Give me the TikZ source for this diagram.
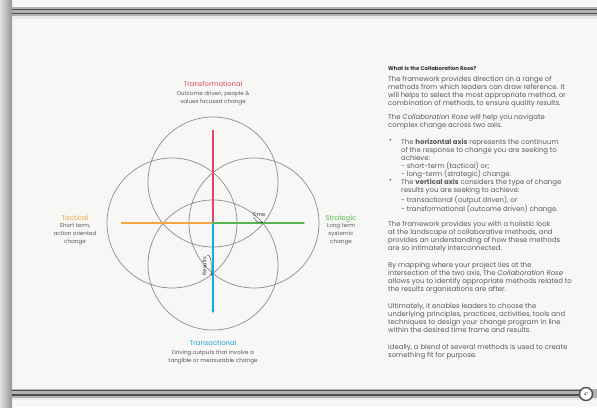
\documentclass[tikz,border=0pt]{standalone}
\usepackage{fontspec}
\setmainfont{Poppins}
\usetikzlibrary{arrows.meta}
\definecolor{pagebg}{HTML}{F7F7F5}
\definecolor{bodytext}{HTML}{5A5A5A}
\definecolor{ringgrey}{HTML}{8C8C8C}
\definecolor{rosered}{HTML}{E5475F}
\definecolor{roseorange}{HTML}{F5A43F}
\definecolor{rosegreen}{HTML}{55B653}
\definecolor{roseblue}{HTML}{1BA5E4}
\definecolor{rulegrey}{HTML}{4F4F4F}
\tikzset{
  ring/.style={draw=ringgrey, line width=0.7pt},
  axisline/.style={line width=1.3pt},
  axistitle/.style={font=\fontsize{6.8}{8}\selectfont, inner sep=0pt, anchor=base},
  axisnote/.style={font=\fontsize{5.6}{8}\selectfont, text=bodytext, align=center, inner sep=0pt, anchor=north},
  pointer/.style={font=\fontsize{5.2}{6}\selectfont, text=black!80, inner sep=0pt},
  pointerarrow/.style={draw=black!75, line width=0.45pt, -{Stealth[length=2pt,width=2pt]}},
  body/.style={font=\fontsize{6.9}{8}\selectfont, text=bodytext, align=left, inner sep=0pt, anchor=north west},
  bulletmark/.style={font=\fontsize{6.9}{8}\selectfont, text=bodytext, inner sep=0pt, anchor=north west},
  pagerule/.style={draw=rulegrey, line width=1.3pt},
}
\begin{document}
\begin{tikzpicture}[x=1pt, y=-1pt]
\useasboundingbox (0,0) rectangle (597,407);

% page and binding shadow
\fill[pagebg] (0,0) rectangle (597,407);
\shade[left color=black!12, right color=black!42] (0,0) rectangle (12,407);

% header rules
\fill[black!30] (12,7) rectangle (597,16);
\draw[pagerule] (12,9.3) -- (597,9.3);
\draw[pagerule] (12,13.8) -- (597,13.8);
\fill[black!8] (12,16) rectangle (597,19);

% footer rules and page badge
\fill[black!30] (12,388.5) rectangle (597,397.5);
\draw[pagerule] (12,390.5) -- (590,390.5);
\draw[pagerule] (12,395) -- (590,395);
\fill[black!8] (12,397.5) rectangle (597,400);
\node[circle, draw=rulegrey, line width=1.4pt, fill=white, minimum size=13pt, inner sep=0pt,
      font=\fontsize{3.5}{4}\selectfont] (pageno) at (586,394) {47};

% the four rings of the rose
\coordinate (c) at (213,223);
\draw[ring] (213,182) circle[radius=65];
\draw[ring] (213,265) circle[radius=65];
\draw[ring] (172,223) circle[radius=65];
\draw[ring] (254,223) circle[radius=65];

% axes
\coordinate (topend) at (213,130);
\coordinate (leftend) at (121,223);
\coordinate (rightend) at (305,223);
\coordinate (bottomend) at (213,313);
\draw[axisline, rosered] (c) -- (topend);
\draw[axisline, roseorange] (c) -- (leftend);
\draw[axisline, rosegreen, -{Stealth[length=2.5pt,width=2.5pt]}] (c) -- (rightend);
\draw[axisline, roseblue, -{Stealth[length=3pt,width=3pt]}] (c) -- (bottomend);

% axis titles and descriptions
\node[axistitle, text=rosered] (transformational) at (213,86) {Transformational};
\node[axisnote] (outcome) at (213,91.5) {Outcome driven, people \&\\values focused change};

\node[axistitle, text=roseorange] (tactical) at (75,220) {Tactical};
\node[axisnote] (shortterm) at (75,223.5) {Short term,\\action oriented\\change};

\node[axistitle, text=rosegreen] (strategic) at (341,220) {Strategic};
\node[axisnote] (longterm) at (341,223.5) {Long term\\systemic\\change};

\node[axistitle, text=roseblue] (transactional) at (213,345) {Transactional};
\node[axisnote] (outputs) at (213,350.5) {Driving outputs that involve a\\tangible or measurable change};

% pointers to the ring crossings
\coordinate (timecross) at (263,222);
\coordinate (resultscross) at (212,273);
\node[pointer] (time) at (259,214.5) {Time};
\draw[pointerarrow] (time.south west) ++(1.5,0.5) to[out=-80, in=200] (timecross);
\node[pointer, rotate=90] (results) at (204.5,266) {Results};
\draw[pointerarrow] (results.south east) ++(0.5,-1.5) to[out=10, in=250] (resultscross);

% text column
\node[body, font=\fontsize{5.4}{8}\selectfont\bfseries, text=black!80] (heading) at (388,65.5) {What is the Collaboration Rose?};
\node[body] (para1) at (388,76) {The framework provides direction on a range of\\methods from which leaders can draw reference. It\\will helps to select the most appropriate method, or\\combination of methods, to ensure quality results.};
\node[body] (para2) at (388,114) {The \emph{Collaboration Rose} will help you navigate\\complex change across two axis.};
\node[bulletmark] (bulletone) at (389,139) {•};
\node[bulletmark] (bullettwo) at (389,179) {•};
\node[body] (para3) at (401,139) {The \textbf{horizontal axis} represents the continuum\\of the response to change you are seeking to\\achieve:\\- short-term (tactical) or;\\- long-term (strategic) change.\\The \textbf{vertical axis} considers the type of change\\results you are seeking to achieve:\\- transactional (output driven), or\\- transformational (outcome driven) change.};
\node[body] (para4) at (388,221) {The framework provides you with a holistic look\\at the landscape of collaborative methods, and\\provides an understanding of how these methods\\are so intimately interconnected.};
\node[body] (para5) at (388,262) {By mapping where your project lies at the\\intersection of the two axis, The \emph{Collaboration Rose}\\allows you to identify appropriate methods related to\\the results organisations are after.};
\node[body] (para6) at (388,303) {Ultimately, it enables leaders to choose the\\underlying principles, practices, activities, tools and\\techniques to design your change program in line\\within the desired time frame and results.};
\node[body] (para7) at (388,344) {Ideally, a blend of several methods is used to create\\something fit for purpose.};
\end{tikzpicture}
\end{document}
